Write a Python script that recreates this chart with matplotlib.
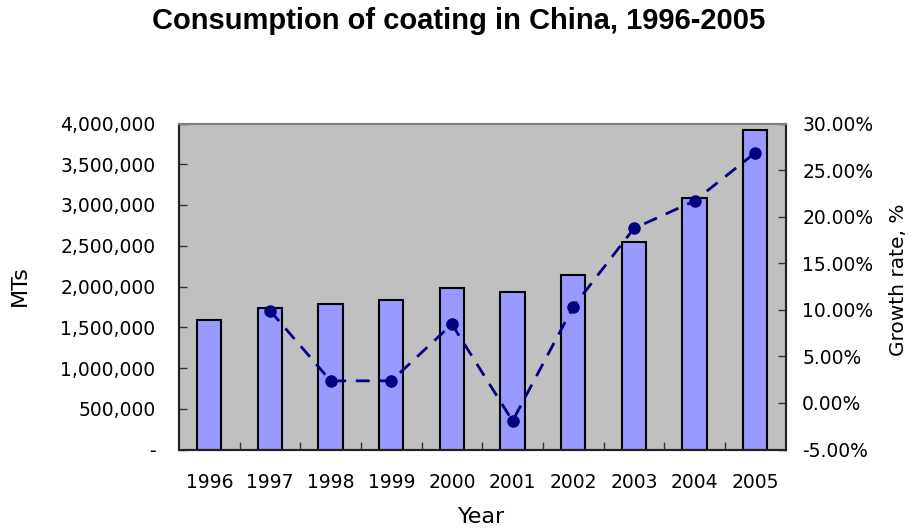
import matplotlib
matplotlib.use("Agg")
import matplotlib.pyplot as plt
import numpy as np
from matplotlib.ticker import FuncFormatter, FixedLocator

years = ["1996", "1997", "1998", "1999", "2000", "2001", "2002", "2003", "2004", "2005"]
consumption = [1595000, 1742000, 1791000, 1840000, 1983000, 1934000, 2135000, 2547000, 3087000, 3921000]
growth_years = ["1997", "1998", "1999", "2000", "2001", "2002", "2003", "2004", "2005"]
growth_rate = [9.92, 2.37, 2.37, 8.45, -1.93, 10.31, 18.73, 21.69, 26.85]

fig = plt.figure(figsize=(9.11, 5.30), dpi=100)
ax = fig.add_axes([179/911, 1-449.5/530, (785.5-179)/911, (449.5-123.5)/530])
ax.set_facecolor("#C0C0C0")

x = np.arange(len(years))
ax.bar(x, consumption, width=0.4, color="#9999FF", edgecolor="black", linewidth=1.5, zorder=2)
ax.set_xlim(-0.5, len(years) - 0.5)
ax.set_ylim(0, 4000000)
ax.set_yticks(np.arange(0, 4000001, 500000))
ax.yaxis.set_major_formatter(FuncFormatter(lambda v, p: "-" if v == 0 else f"{int(v):,}"))
ax.set_xticks(x)
ax.set_xticklabels(years)
ax.xaxis.set_minor_locator(FixedLocator(np.arange(0.5, len(years) - 1, 1.0)))
ax.tick_params(axis="x", which="major", length=0, pad=17, labelsize=13.5)
ax.tick_params(axis="x", which="minor", direction="in", length=6, width=1, color="#333333")
ax.tick_params(axis="y", direction="in", length=6, width=1, color="#333333", pad=17, labelsize=13.5)

ax2 = ax.twinx()
gx = [years.index(y) for y in growth_years]
ax2.plot(gx, growth_rate, color="#000080", linestyle=(0, (5, 3.5)), linewidth=2,
         marker="o", markersize=8, zorder=3)
ax2.set_ylim(-5, 30)
ax2.set_yticks(np.arange(-5, 30.1, 5))
ax2.yaxis.set_major_formatter(FuncFormatter(lambda v, p: f"{v:.2f}%"))
ax2.tick_params(axis="y", direction="in", length=6, width=1, color="#333333", pad=12, labelsize=13.5)

for a in (ax, ax2):
    a.spines["top"].set_color("#808080")
    a.spines["left"].set_color("#222222")
    a.spines["bottom"].set_color("#222222")
    a.spines["right"].set_color("#222222")
    for s in a.spines.values():
        s.set_linewidth(1.5)

fig.text(20/911, 1-286/530, "MTs", fontsize=16, ha="center", va="center", rotation=90)
fig.text(482/911, 1-517/530, "Year", fontsize=16, ha="center", va="center")
fig.text(899/911, 1-280/530, "Growth rate, %", fontsize=14.5, ha="center", va="center", rotation=90)
fig.text(459/911, 1-21/530, "Consumption of coating in China, 1996-2005", fontsize=21,
         fontweight="bold", family="Liberation Sans", ha="center", va="center")

fig.savefig("out.png", dpi=100)
